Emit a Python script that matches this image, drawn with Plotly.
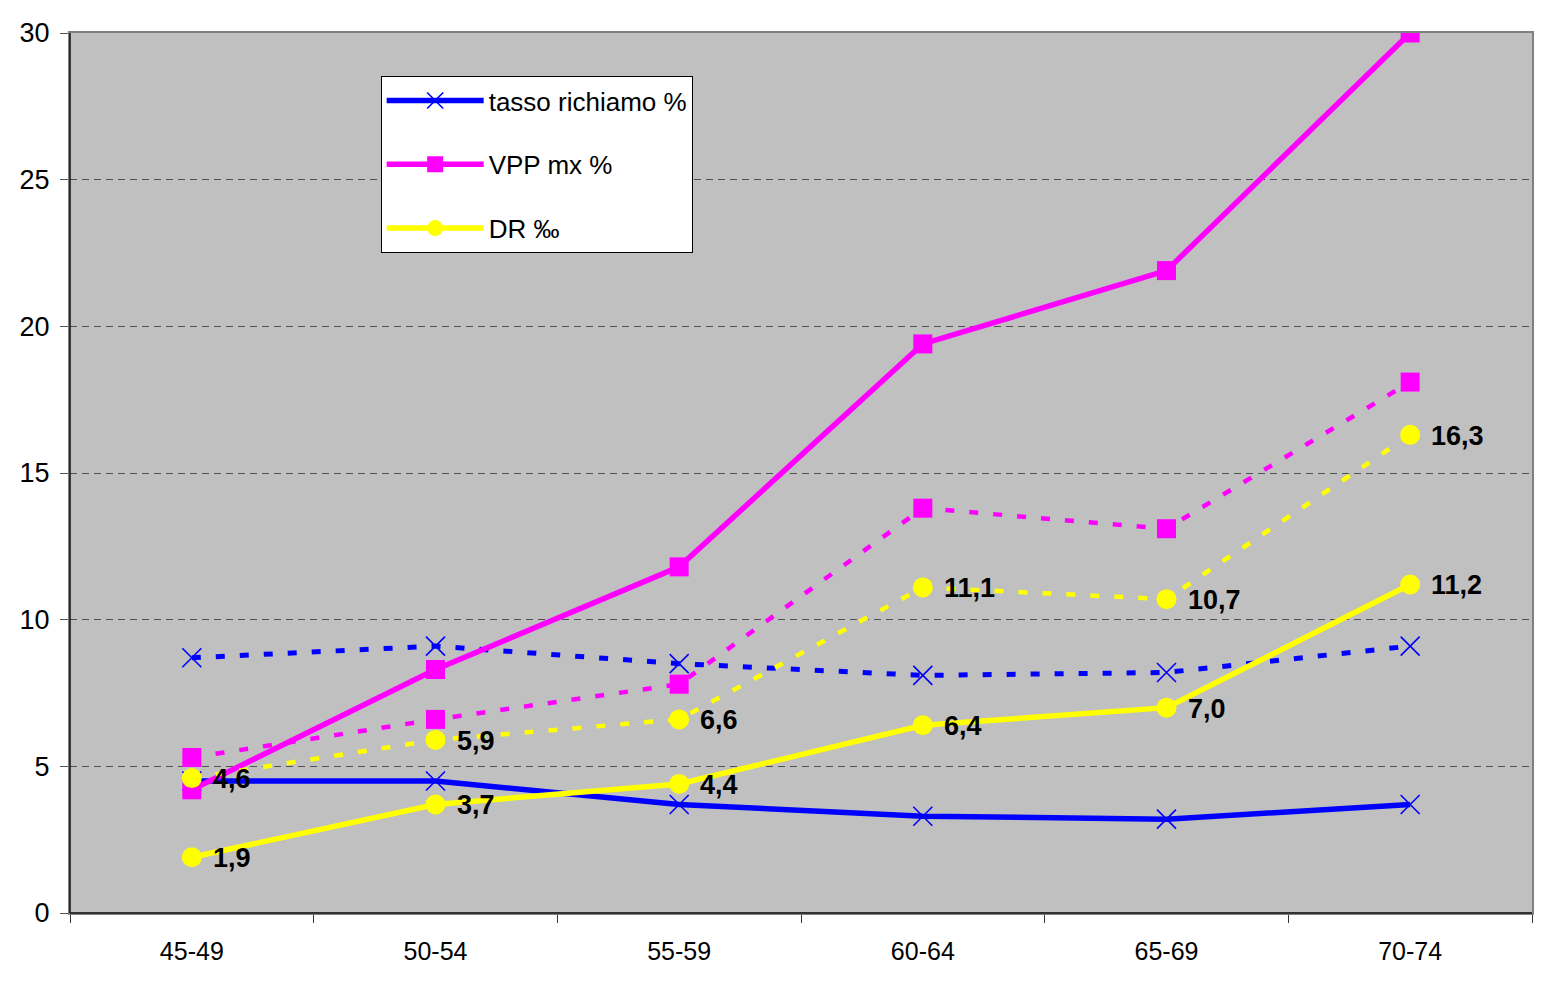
import plotly.graph_objects as go

categories = ["45-49", "50-54", "55-59", "60-64", "65-69", "70-74"]

tasso_solid = [4.5, 4.5, 3.7, 3.3, 3.2, 3.7]
tasso_dotted = [8.7, 9.1, 8.5, 8.1, 8.2, 9.1]
vpp_solid = [4.2, 8.3, 11.8, 19.4, 21.9, 30.0]
vpp_dotted = [5.3, 6.6, 7.8, 13.8, 13.1, 18.1]
dr_solid = [1.9, 3.7, 4.4, 6.4, 7.0, 11.2]
dr_dotted = [4.6, 5.9, 6.6, 11.1, 10.7, 16.3]

series_names = ["tasso richiamo %", "VPP mx %", "DR \u2030"]
y_ticks = [0, 5, 10, 15, 20, 25, 30]

BLUE = "#0000FF"
MAGENTA = "#FF00FF"
YELLOW = "#FFFF00"
FONT = "Liberation Sans, Arial, sans-serif"
DOT = "9px,15px"

fig = go.Figure()

def add(y, name, color, symbol, size, dash, width, group, show):
    marker = dict(symbol=symbol, size=size, color=color)
    if symbol == "x-thin":
        marker["line"] = dict(color=color, width=1.6)
    else:
        marker["line"] = dict(width=0)
    fig.add_trace(go.Scatter(
        x=categories, y=y, name=name, mode="lines+markers",
        line=dict(color=color, width=width, dash=dash),
        marker=marker, legendgroup=group, showlegend=show,
        hoverinfo="x+y"))

add(tasso_dotted, series_names[0], BLUE, "x-thin", 19, DOT, 5, "g1", False)
add(tasso_solid, series_names[0], BLUE, "x-thin", 19, "solid", 5.5, "g1", True)
add(vpp_dotted, series_names[1], MAGENTA, "square", 19, DOT, 4.5, "g2", False)
add(vpp_solid, series_names[1], MAGENTA, "square", 19, "solid", 5.5, "g2", True)
add(dr_dotted, series_names[2], YELLOW, "circle", 20, DOT, 4.5, "g3", False)
add(dr_solid, series_names[2], YELLOW, "circle", 20, "solid", 5.5, "g3", True)

annotations = []
for vals in (dr_solid, dr_dotted):
    for c, v in zip(categories, vals):
        annotations.append(dict(
            x=c, y=v, xref="x", yref="y", text=f"{v:.1f}".replace(".", ","),
            showarrow=False, xanchor="left", yanchor="middle", xshift=19, yshift=-1,
            font=dict(family=FONT, size=27, color="black", weight="bold")))

fig.update_layout(
    width=1544, height=975,
    margin=dict(l=62, r=20, t=25, b=70, autoexpand=False),
    paper_bgcolor="white",
    plot_bgcolor="#C0C0C0",
    font=dict(family=FONT, color="black"),
    showlegend=True,
    legend=dict(
        x=0.2125, y=0.951, xanchor="left", yanchor="top",
        bgcolor="white", bordercolor="black", borderwidth=1,
        font=dict(family=FONT, size=26, color="black"),
        tracegroupgap=27, itemwidth=97,
    ),
    annotations=annotations,
    shapes=[
        dict(type="line", xref="x domain", yref="y domain", x0=0, x1=1, y0=0, y1=0,
             line=dict(color="#333333", width=2), layer="above"),
        dict(type="line", xref="x domain", yref="y domain", x0=0, x1=0, y0=0, y1=1,
             line=dict(color="#111111", width=1.5), layer="above"),
    ],
    xaxis=dict(
        type="category", range=[-0.5, 5.5], showgrid=False, zeroline=False, automargin=False,
        showline=True, mirror=True, linecolor="#808080", linewidth=2, layer="below traces",
        ticks="outside", tickson="boundaries", ticklen=8, tickcolor="#333333", tickwidth=1,
        tickfont=dict(family=FONT, size=25, color="black"), ticklabelstandoff=15,
    ),
    yaxis=dict(
        range=[0, 30], tickvals=y_ticks, showgrid=True, gridcolor="#505050", automargin=False,
        gridwidth=1.3, griddash="7px,5px", zeroline=False,
        showline=True, mirror=True, linecolor="#808080", linewidth=2, layer="below traces",
        ticks="outside", ticklen=8, tickcolor="#555555", tickwidth=1,
        tickfont=dict(family=FONT, size=27, color="black"), ticklabelstandoff=5,
    ),
)

fig.write_html("out.html")
